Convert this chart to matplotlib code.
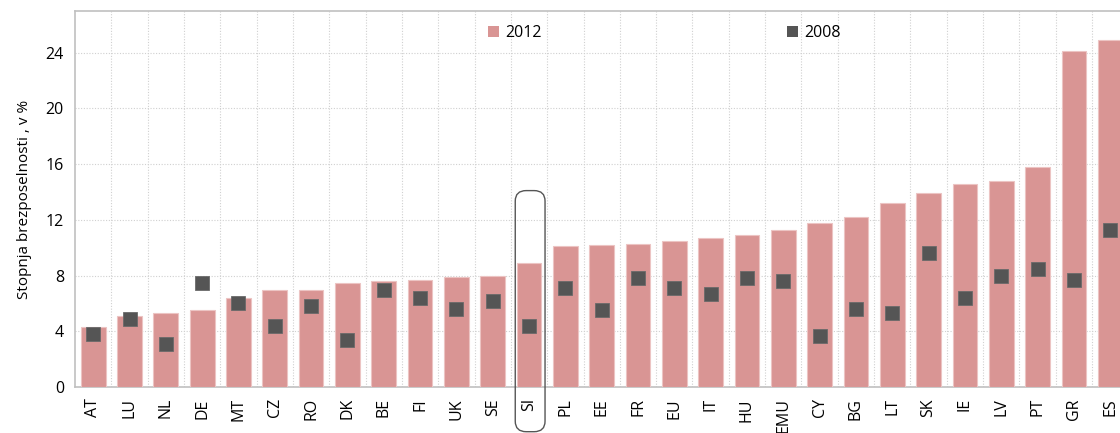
import numpy as np
import matplotlib
matplotlib.use("Agg")
import matplotlib.pyplot as plt
from matplotlib.patches import FancyBboxPatch, Patch

countries = ["AT", "LU", "NL", "DE", "MT", "CZ", "RO", "DK", "BE", "FI", "UK", "SE",
             "SI", "PL", "EE", "FR", "EU", "IT", "HU", "EMU", "CY", "BG", "LT", "SK",
             "IE", "LV", "PT", "GR", "ES"]
rate_2012 = [4.3, 5.1, 5.3, 5.5, 6.4, 7.0, 7.0, 7.5, 7.6, 7.7, 7.9, 8.0,
             8.9, 10.1, 10.2, 10.3, 10.5, 10.7, 10.9, 11.3, 11.8, 12.2, 13.2, 13.9,
             14.6, 14.8, 15.8, 24.1, 24.9]
rate_2008 = [3.8, 4.9, 3.1, 7.5, 6.0, 4.4, 5.8, 3.4, 7.0, 6.4, 5.6, 6.2,
             4.4, 7.1, 5.5, 7.8, 7.1, 6.7, 7.8, 7.6, 3.7, 5.6, 5.3, 9.6,
             6.4, 8.0, 8.5, 7.7, 11.3]
highlight = "SI"

plt.rcParams['font.family'] = ['Open Sans', 'DejaVu Sans']

bar_col = "#d99594"
dot_col = "#555555"
grid_col = "#d0d0d0"

fig = plt.figure(figsize=(11.2, 4.33), dpi=100)
ax = fig.add_axes([0.067, 0.106, 0.933, 0.869])

x = np.arange(len(countries))
ax.bar(x, rate_2012, width=0.68, color=bar_col, edgecolor="#ecc4c3", linewidth=0.8, zorder=3)
ax.plot(x, rate_2008, "s", color=dot_col, markersize=9.5, markeredgecolor="#6a6a6a",
        markeredgewidth=0.6, linestyle="none", zorder=4)

ax.set_xlim(-0.5, 28.27)
ax.set_ylim(0, 27)
ax.set_yticks(np.arange(0, 25, 4))
ax.set_xticks(x)
ax.set_xticklabels(countries, rotation=90, fontsize=11.5)
ax.set_xticks(x[:-1] + 0.5, minor=True)
ax.tick_params(axis="x", which="both", length=0, pad=8)
ax.tick_params(axis="y", length=0, labelsize=11.5, pad=8)

ax.grid(axis="y", which="major", color=grid_col, linestyle=(0, (1, 1.5)), linewidth=0.8, zorder=0)
ax.grid(axis="x", which="minor", color=grid_col, linestyle=(0, (1, 1.5)), linewidth=0.8, zorder=0)
ax.grid(axis="x", which="major", visible=False)

for s in ["left", "bottom", "top"]:
    ax.spines[s].set_color("#c0c0c0")
    ax.spines[s].set_linewidth(1.2)
ax.spines["right"].set_visible(False)

ax.set_ylabel("Stopnja brezposelnosti , v %", fontsize=11, labelpad=10)

# box around SI
i = countries.index(highlight)
box = FancyBboxPatch((i - 0.38, -3.2), 0.82, 17.3,
                     boxstyle="round,pad=0,rounding_size=0.3",
                     mutation_aspect=2.5,
                     facecolor="none", edgecolor="#555555", linewidth=1.0,
                     clip_on=False, zorder=5)
ax.add_patch(box)

h1 = Patch(facecolor=bar_col, edgecolor="none")
h2 = Patch(facecolor=dot_col, edgecolor="none")
ax.legend([h1, h2], ["2012", "2008"], ncol=2, frameon=False, fontsize=11.5,
          loc="center left", bbox_to_anchor=(0.395, 0.941), borderaxespad=0,
          borderpad=0, handlelength=0.7, handleheight=0.7, handletextpad=0.4,
          columnspacing=15.35)

fig.savefig("out.png", dpi=100)
